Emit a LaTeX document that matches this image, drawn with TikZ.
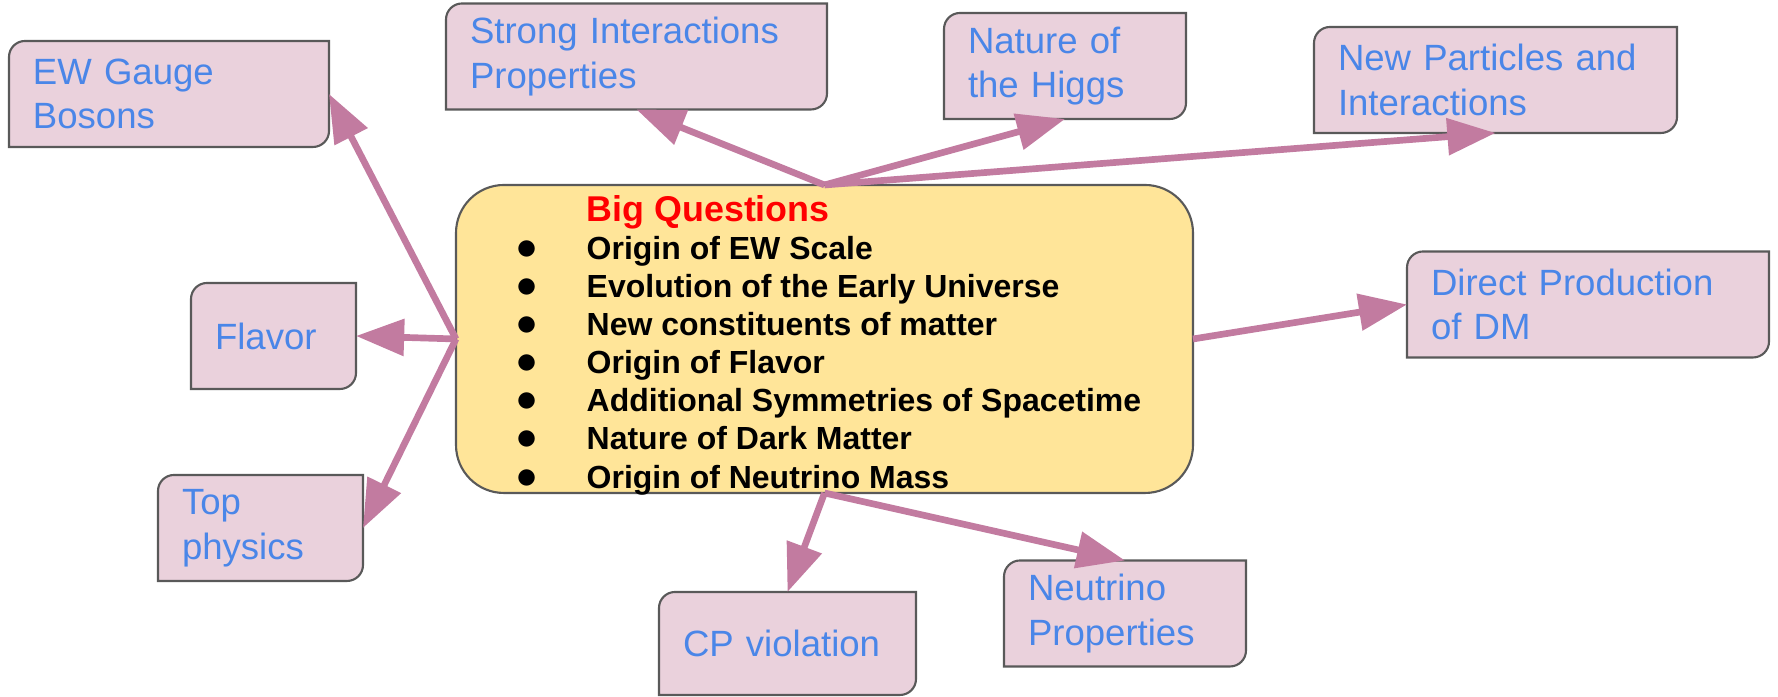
\documentclass[tikz,border=0pt]{standalone}
\usepackage{fontspec}
\setmainfont{Liberation Sans}
\usetikzlibrary{arrows.meta, positioning, backgrounds}
\definecolor{boxpink}{HTML}{EAD1DC}
\definecolor{topicblue}{HTML}{4A86E8}
\definecolor{linkmag}{HTML}{C27BA0}
\definecolor{edgegray}{HTML}{595959}
\definecolor{qyellow}{HTML}{FFE599}

% box with the top left and bottom right corners rounded
\newcommand{\diagframe}[1]{%
  \filldraw[topicframe] (#1.south west) -- ([yshift=-0.16cm]#1.north west)
    arc[start angle=180, end angle=90, radius=0.16cm] -- (#1.north east)
    -- ([yshift=0.16cm]#1.south east)
    arc[start angle=0, end angle=-90, radius=0.16cm] -- cycle;}
\newcommand{\bq}{\llap{\fontsize{11.5}{10.85}\selectfont$\bullet$\hspace{0.49cm}}}

\begin{document}
\begin{tikzpicture}[
  topic/.style={inner xsep=0.24cm, inner ysep=0pt, outer sep=0pt, minimum height=1.06cm, align=left, text=topicblue, font=\fontsize{10.4}{12.7}\selectfont},
  topicframe/.style={draw=edgegray, fill=boxpink, line width=0.6pt},
  qbox/.style={draw=edgegray, fill=qyellow, line width=0.6pt, rounded corners=0.48cm, outer sep=0pt},
  qtext/.style={inner sep=0pt, align=left, font=\fontsize{9.1}{10.85}\selectfont\bfseries},
  link/.style={-{Triangle[length=13.7pt, width=10.2pt]}, line width=1.9pt, linkmag}
]
  \useasboundingbox (0,0) rectangle (17.78,6.97);

  \node[qbox, minimum width=7.37cm, minimum height=3.08cm] (bigq) at (8.245,3.58) {};
  \node[qtext, anchor=west] (qlist) at ([xshift=1.30cm, yshift=-0.06cm]bigq.west) {
    {\fontsize{10.2}{10.85}\selectfont\color{red}Big Questions}\\
    \bq Origin of EW Scale\\
    \bq Evolution of the Early Universe\\
    \bq New constituents of matter\\
    \bq Origin of Flavor\\
    \bq Additional Symmetries of Spacetime\\
    \bq Nature of Dark Matter\\
    \bq Origin of Neutrino Mass
  };

  \node[topic, text width=2.72cm] (ew) at (1.69,6.03) {EW Gauge\\Bosons};
  \node[topic, text width=3.33cm] (strong) at (6.365,6.405) {Strong Interactions\\Properties};
  \node[topic, text width=1.94cm] (higgs) at (10.65,6.31) {Nature of\\the Higgs};
  \node[topic, text width=3.15cm] (newp) at (14.955,6.17) {New Particles and\\Interactions};
  \node[topic, text width=3.14cm] (dm) at (15.88,3.925) {Direct Production\\of DM};
  \node[topic, text width=1.17cm] (flavor) at (2.735,3.61) {Flavor};
  \node[topic, text width=1.57cm] (top) at (2.605,1.69) {Top\\physics};
  \node[topic, text width=2.09cm, minimum height=1.03cm] (cp) at (7.875,0.535) {CP violation};
  \node[topic, text width=1.94cm] (nu) at (11.25,0.835) {Neutrino\\Properties};

  \begin{pgfonlayer}{background}
    \foreach \n in {ew,strong,higgs,newp,dm,flavor,top,cp,nu} {\diagframe{\n}}
  \end{pgfonlayer}

  % Arrows
  \draw[link] (bigq.north) -- (strong.south);
  \draw[link] (bigq.north) -- (higgs.south);
  \draw[link] (bigq.north) -- (newp.south);
  \draw[link] (bigq.east) -- (dm.west);
  \draw[link] (bigq.west) -- (ew.east);
  \draw[link] (bigq.west) -- (flavor.east);
  \draw[link] (bigq.west) -- (top.east);
  \draw[link] (bigq.south) -- (cp.north);
  \draw[link] (bigq.south) -- (nu.north);
\end{tikzpicture}
\end{document}
